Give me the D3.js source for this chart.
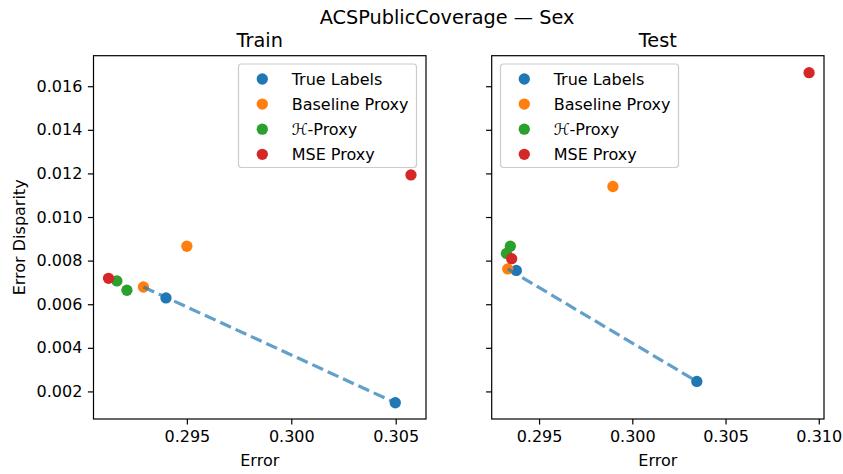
<!DOCTYPE html>
<html>
<head>
<meta charset="utf-8">
<script src="https://cdn.jsdelivr.net/npm/d3@7"></script>
<style>
  html, body { margin: 0; padding: 0; background: #fff; }
  svg { display: block; }
  text { font-family: "DejaVu Sans", sans-serif; fill: #000; }
</style>
</head>
<body>
<svg id="chart" width="843" height="474"></svg>
<script>
// ---- data ----
const seriesNames = ["True Labels", "Baseline Proxy", "ℋ-Proxy", "MSE Proxy"];
const seriesColors = ["#1f77b4", "#ff7f0e", "#2ca02c", "#d62728"];

// Train panel: [error, disparity]
const trainTrue     = [[0.29400, 0.00629], [0.30498, 0.00148]];
const trainBaseline = [[0.29292, 0.00679], [0.29500, 0.00866]];
const trainH        = [[0.29165, 0.00707], [0.29213, 0.00664]];
const trainMSE      = [[0.29125, 0.00719], [0.30573, 0.01193]];
const trainFrontier = [[0.29292, 0.00679], [0.30498, 0.00148]];

// Test panel
const testTrue     = [[0.29378, 0.00755], [0.30346, 0.00246]];
const testBaseline = [[0.29332, 0.00762], [0.29896, 0.01140]];
const testH        = [[0.29325, 0.00833], [0.29346, 0.00866]];
const testMSE      = [[0.29353, 0.00809], [0.30948, 0.01662]];
const testFrontier = [[0.29332, 0.00762], [0.30346, 0.00246]];

const yTicks = [0.002, 0.004, 0.006, 0.008, 0.010, 0.012, 0.014, 0.016];
const trainXTicks = [0.295, 0.300, 0.305];
const testXTicks = [0.295, 0.300, 0.305, 0.310];

const yDomain = [0.000735, 0.017400];
const trainXDomain = [0.29053, 0.30645];
const testXDomain = [0.29246, 0.31028];

// ---- layout ----
const svg = d3.select("#chart");
const plotTop = 55.7, plotBottom = 419;
const FS = 16, TFS = 19.3;
const panels = [
  { title: "Train", left: 93.5, right: 426, xDomain: trainXDomain, xTicks: trainXTicks,
    series: [trainTrue, trainBaseline, trainH, trainMSE], frontier: trainFrontier, yLabels: true,
    legend: { x: 238.5, y: 64, w: 178, h: 103.5 } },
  { title: "Test", left: 491.7, right: 824, xDomain: testXDomain, xTicks: testXTicks,
    series: [testTrue, testBaseline, testH, testMSE], frontier: testFrontier, yLabels: false,
    legend: { x: 500.5, y: 64, w: 178, h: 103.5 } }
];

svg.append("text")
  .attr("x", 447).attr("y", 24)
  .attr("text-anchor", "middle")
  .style("font-size", TFS + "px")
  .text("ACSPublicCoverage — Sex");

const fmt = d3.format(".3f");

panels.forEach(p => {
  const x = d3.scaleLinear().domain(p.xDomain).range([p.left, p.right]);
  const y = d3.scaleLinear().domain(yDomain).range([plotBottom, plotTop]);
  const g = svg.append("g");

  g.append("text")
    .attr("x", (p.left + p.right) / 2).attr("y", 47)
    .attr("text-anchor", "middle")
    .style("font-size", TFS + "px")
    .text(p.title);

  const xAxis = d3.axisBottom(x).tickValues(p.xTicks).tickFormat(fmt).tickSize(5.6).tickPadding(5.6);
  const xa = g.append("g").attr("transform", `translate(0,${plotBottom})`).call(xAxis);
  const yAxis = d3.axisLeft(y).tickValues(yTicks).tickSize(5.6).tickPadding(5.6)
    .tickFormat(p.yLabels ? fmt : () => "");
  const ya = g.append("g").attr("transform", `translate(${p.left},0)`).call(yAxis);
  [xa, ya].forEach(a => {
    a.select(".domain").remove();
    a.selectAll(".tick line").attr("stroke", "#000").attr("stroke-width", 1.2);
    a.selectAll(".tick text").style("font-size", FS + "px").style("font-family", "DejaVu Sans, sans-serif").attr("fill", "#000");
  });

  g.append("text")
    .attr("x", (p.left + p.right) / 2).attr("y", 465.5)
    .attr("text-anchor", "middle")
    .style("font-size", FS + "px")
    .text("Error");
  if (p.yLabels) {
    g.append("text")
      .attr("transform", `translate(25,${(plotTop + plotBottom) / 2}) rotate(-90)`)
      .attr("text-anchor", "middle")
      .style("font-size", FS + "px")
      .text("Error Disparity");
  }

  const clipId = "clip-" + p.title;
  svg.append("clipPath").attr("id", clipId)
    .append("rect").attr("x", p.left).attr("y", plotTop).attr("width", p.right - p.left).attr("height", plotBottom - plotTop);
  const plot = g.append("g").attr("clip-path", `url(#${clipId})`);
  p.series.forEach((s, i) => {
    plot.selectAll(null).data(s).enter().append("circle")
      .attr("cx", d => x(d[0])).attr("cy", d => y(d[1]))
      .attr("r", 5.65)
      .attr("fill", seriesColors[i]);
  });

  plot.append("path")
    .datum(p.frontier)
    .attr("d", d3.line().x(d => x(d[0])).y(d => y(d[1])))
    .attr("fill", "none")
    .attr("stroke", seriesColors[0])
    .attr("stroke-opacity", 0.7)
    .attr("stroke-width", 3.2)
    .attr("stroke-dasharray", "11.8,5.1");

  g.append("rect")
    .attr("x", p.left).attr("y", plotTop)
    .attr("width", p.right - p.left).attr("height", plotBottom - plotTop)
    .attr("fill", "none").attr("stroke", "#000").attr("stroke-width", 1.2);

  const L = p.legend;
  const lg = g.append("g");
  lg.append("rect")
    .attr("x", L.x).attr("y", L.y).attr("width", L.w).attr("height", L.h)
    .attr("rx", 3).attr("ry", 3)
    .attr("fill", "#fff").attr("fill-opacity", 0.8)
    .attr("stroke", "#cccccc").attr("stroke-width", 1.2);
  seriesNames.forEach((name, i) => {
    const cy = L.y + 15 + i * 25.1;
    lg.append("circle").attr("cx", L.x + 23.8).attr("cy", cy).attr("r", 5.65).attr("fill", seriesColors[i]);
    lg.append("text")
      .attr("x", L.x + 53.2).attr("y", cy + 5.8)
      .style("font-size", FS + "px")
      .text(name);
  });
});
</script>
</body>
</html>
